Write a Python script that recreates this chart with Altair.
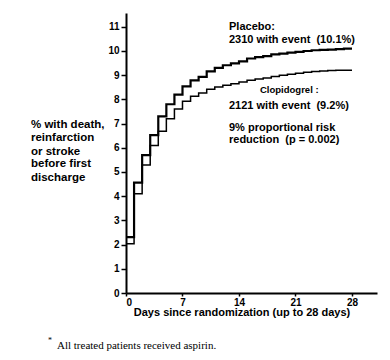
import altair as alt
import pandas as pd

days = list(range(0, 29))
placebo = [2.31, 4.56, 5.70, 6.52, 7.30, 7.80, 8.20, 8.54, 8.79, 8.93, 9.16, 9.30, 9.41, 9.49,
           9.57, 9.69, 9.75, 9.79, 9.86, 9.89, 9.93, 9.96, 10.0, 10.03, 10.05, 10.06, 10.08, 10.1, 10.1]
clopidogrel = [2.04, 4.10, 5.29, 6.10, 6.68, 7.20, 7.60, 7.92, 8.13, 8.26, 8.42, 8.51, 8.58, 8.65,
               8.72, 8.79, 8.84, 8.88, 8.95, 9.00, 9.04, 9.08, 9.12, 9.15, 9.17, 9.19, 9.20, 9.20, 9.20]
x_ticks = [0, 7, 14, 21, 28]
y_ticks = list(range(0, 12))

df = pd.DataFrame({
    "day": days * 2,
    "pct": placebo + clopidogrel,
    "group": ["Placebo"] * len(days) + ["Clopidogrel"] * len(days),
})

FONT = "Liberation Sans"
NB = "\u00a0"

xs = alt.Scale(domain=[0, 31.1], nice=False, zero=False)
ys = alt.Scale(domain=[0, 11.57], nice=False)

base = alt.Chart(df)

lines = base.mark_line(interpolate="step-after", color="black").encode(
    x=alt.X("day:Q", scale=xs, axis=alt.Axis(values=x_ticks, title=None, tickSize=3, labelPadding=1)),
    y=alt.Y("pct:Q", scale=ys, axis=alt.Axis(values=y_ticks, title=None, tickSize=5, labelPadding=2)),
    detail="group:N",
    strokeWidth=alt.StrokeWidth("group:N", scale=alt.Scale(domain=["Placebo", "Clopidogrel"], range=[2.2, 1.5]), legend=None),
)

def txt(s, x, y, size=11, weight="bold", font=FONT, align="left"):
    return alt.Chart(pd.DataFrame({"t": [s]})).mark_text(
        align=align, baseline="middle", fontSize=size, fontWeight=weight, font=font, color="black"
    ).encode(text="t:N", x=alt.value(x), y=alt.value(y))

texts = [
    txt("Placebo:", 103, 14),
    txt("2310 with event" + NB * 2 + "(10.1%)", 103, 27),
    txt("Clopidogrel" + NB + ":", 134, 77, size=9.5),
    txt("2121 with event" + NB * 2 + "(9.2%)", 103, 93),
    txt("9% proportional risk", 103, 115),
    txt("reduction" + NB * 2 + "(p = 0.002)", 103, 127),
    txt("% with death,", -95, 112, size=11.5),
    txt("reinfarction", -95, 125, size=11.5),
    txt("or stroke", -95, 139, size=11.5),
    txt("before first", -95, 151, size=11.5),
    txt("discharge", -95, 165, size=11.5),
    txt("Days since randomization (up to 28 days)", 116, 300, size=11, align="center"),
    txt("*", -78, 328, size=8, weight="normal", font="Liberation Serif"),
    txt("All treated patients received aspirin.", -69, 333, size=11, weight="normal", font="Liberation Serif"),
]

chart = alt.layer(lines, *texts).properties(
    width=251, height=280,
    autosize=alt.AutoSizeParams(type="none"),
    padding={"left": 118, "top": 5, "right": 5, "bottom": 59},
).configure_view(stroke=None).configure_axis(
    grid=False, domainColor="black", domainWidth=2, tickColor="black", tickWidth=1.5,
    labelFont=FONT, labelFontWeight="bold", labelFontSize=10, labelColor="black",
)

chart.save("out.html", embed_options={"renderer": "svg", "actions": False})
